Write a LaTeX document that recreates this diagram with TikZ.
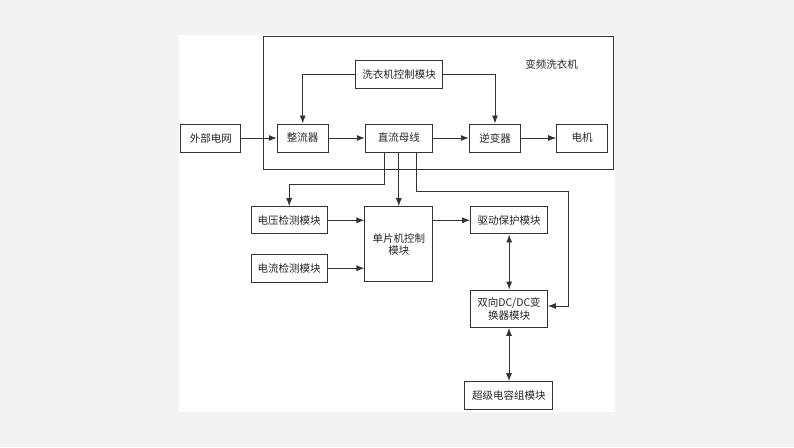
\documentclass[tikz,border=0pt]{standalone}
\usepackage{fontspec}
\setmainfont{Noto Sans CJK SC}
\usetikzlibrary{arrows.meta}
\definecolor{ln}{HTML}{333333}
\definecolor{bg}{HTML}{F3F3F3}
\tikzset{
  blk/.style={draw=ln, line width=1pt, fill=white, inner sep=0pt, text=black!85,
    font=\fontsize{10.5}{12.5}\selectfont, align=center},
  arr/.style={draw=ln, line width=0.9pt, -{Latex[length=8pt,width=6pt]}},
  darr/.style={draw=ln, line width=0.9pt, {Latex[length=8pt,width=6pt]}-{Latex[length=8pt,width=6pt]}},
  ln/.style={draw=ln, line width=0.9pt}
}
\begin{document}
\begin{tikzpicture}[x=1pt,y=-1pt]
\useasboundingbox (0,0) rectangle (794,447);
\fill[bg] (0,0) rectangle (794,447);
\fill[white] (179,35) rectangle (615,412);
% outer box
\draw[ln, line width=1pt] (263.3,36.7) rectangle (613.3,169.3);
\node[text=black!85, font=\fontsize{10.5}{12.5}\selectfont] (title) at (551.7,64.3) {变频洗衣机};
% nodes
\node[blk, minimum width=59.7pt, minimum height=28pt] (ext) at (210.8,138) {外部电网};
\node[blk, minimum width=50.7pt, minimum height=28pt] (rect) at (302.7,138) {整流器};
\node[blk, minimum width=67pt, minimum height=28pt] (bus) at (398.8,138) {直流母线};
\node[blk, minimum width=51.4pt, minimum height=28pt] (inv) at (495,138) {逆变器};
\node[blk, minimum width=50.6pt, minimum height=28pt] (motor) at (582,138) {电机};
\node[blk, minimum width=87.4pt, minimum height=27.6pt] (wctl) at (399,74.5) {洗衣机控制模块};
\node[blk, minimum width=76.3pt, minimum height=27.3pt] (vdet) at (289.2,220.3) {电压检测模块};
\node[blk, minimum width=76.3pt, minimum height=27.7pt] (idet) at (289.2,268.2) {电流检测模块};
\node[blk, minimum width=67.7pt, minimum height=75.3pt] (mcu) at (398.8,244.3) {单片机控制\\[-0.5pt]模块};
\node[blk, minimum width=77pt, minimum height=27.3pt] (drv) at (509.2,220.3) {驱动保护模块};
\node[blk, minimum width=76.6pt, minimum height=37.3pt, font=\fontsize{10.5}{13.3}\selectfont] (dcdc) at (509,308.7) {双向DC/DC变\\换器模块};
\node[blk, minimum width=87.7pt, minimum height=28.3pt] (cap) at (508.8,395.8) {超级电容组模块};
% coordinates
\coordinate (j1) at (384,184.3);
\coordinate (j2) at (416,191);
\coordinate (j3) at (568.3,306);
% main chain
\draw[arr] (ext) -- (rect);
\draw[arr] (rect) -- (bus);
\draw[arr] (bus) -- (inv);
\draw[arr] (inv) -- (motor);
\draw[arr] (wctl.west) -| (rect.north);
\draw[arr] (wctl.east) -| (inv.north);
% bus branches
\draw[arr] (j1 |- bus.south) -- (j1) -| (vdet.north);
\draw[arr] (bus.south) -- (mcu.north);
\draw[arr] (j2 |- bus.south) -- (j2) -- (j2 -| j3) -- (j3) -- (j3 -| dcdc.east);
% mcu
\draw[arr] (vdet.east) -- (vdet.east -| mcu.west);
\draw[arr] (idet.east) -- (idet.east -| mcu.west);
\draw[arr] (mcu.east |- drv.west) -- (drv.west);
\draw[darr] (drv.south) -- (drv.south |- dcdc.north);
\draw[darr] (dcdc.south) -- (dcdc.south |- cap.north);
\end{tikzpicture}
\end{document}
